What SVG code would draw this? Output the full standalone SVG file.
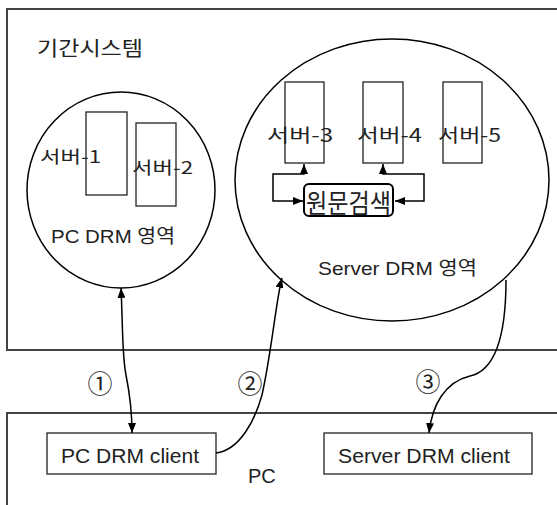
<svg xmlns="http://www.w3.org/2000/svg" width="557" height="505" viewBox="0 0 557 505">
<defs>
<marker id="ah" viewBox="0 0 10 8" refX="10" refY="4" markerWidth="10" markerHeight="8" markerUnits="userSpaceOnUse" orient="auto-start-reverse">
<path d="M0,0 L10,4 L0,8 z" fill="#000"/>
</marker>
<style>
.frame{fill:none;stroke:#444;stroke-width:2}
.shape{fill:#fff;stroke:#000;stroke-width:1.5}
.box{fill:#fff;stroke:#222;stroke-width:1.3}
.t{font-family:"Liberation Sans","Noto Sans CJK KR",sans-serif;fill:#222}
.k{font-family:"Noto Sans CJK KR","Liberation Sans",sans-serif;fill:#222}
.conn{fill:none;stroke:#000;stroke-width:1.5}
</style>
</defs>
<rect width="557" height="505" fill="#fff"/>
<g id="system">
<path class="frame" d="M560,9 H7 V350 H560"/>
<text class="k" x="37" y="56" font-size="20" textLength="106" lengthAdjust="spacingAndGlyphs">기간시스템</text>
</g>
<g id="pc">
<path class="frame" d="M560,413 H7 V510"/>
<text class="t" x="248" y="483" font-size="20">PC</text>
</g>
<g id="pc-drm-area">
<ellipse class="shape" cx="121" cy="190" rx="94" ry="98"/>
<text class="t" x="51" y="243" font-size="19" textLength="124" lengthAdjust="spacingAndGlyphs">PC DRM 영역</text>
</g>
<g id="server1">
<rect class="box" x="86" y="112" width="41" height="83" fill="none"/>
<text class="k" x="40" y="163" font-size="17" textLength="61" lengthAdjust="spacingAndGlyphs">서버-1</text>
</g>
<g id="server2">
<rect class="box" x="136" y="123" width="40" height="83" fill="none"/>
<text class="k" x="132" y="174" font-size="17" textLength="61" lengthAdjust="spacingAndGlyphs">서버-2</text>
</g>
<g id="server-drm-area">
<ellipse class="shape" cx="392" cy="180" rx="157" ry="141"/>
<text class="t" x="318" y="275" font-size="19" textLength="159" lengthAdjust="spacingAndGlyphs">Server DRM 영역</text>
</g>
<g id="server3">
<rect class="box" x="285" y="82" width="39" height="81" fill="none"/>
<text class="k" x="267" y="142" font-size="18" textLength="66" lengthAdjust="spacingAndGlyphs">서버-3</text>
</g>
<g id="server4">
<rect class="box" x="363" y="82" width="40" height="81" fill="none"/>
<text class="k" x="357" y="142" font-size="18" textLength="65" lengthAdjust="spacingAndGlyphs">서버-4</text>
</g>
<g id="server5">
<rect class="box" x="443" y="82" width="39" height="81" fill="none"/>
<text class="k" x="438" y="142" font-size="18" textLength="63" lengthAdjust="spacingAndGlyphs">서버-5</text>
</g>
<g id="search">
<rect x="304" y="184" width="89" height="32" rx="5" fill="#fff" stroke="#000" stroke-width="2"/>
<text class="k" x="306" y="213" font-size="26" textLength="85" lengthAdjust="spacingAndGlyphs">원문검색</text>
</g>
<g id="pc-drm-client">
<rect class="box" x="47" y="433" width="169" height="41"/>
<text class="t" x="61" y="463" font-size="20" textLength="138" lengthAdjust="spacingAndGlyphs">PC DRM client</text>
</g>
<g id="server-drm-client">
<rect class="box" x="324" y="433" width="208" height="41"/>
<text class="t" x="338" y="463" font-size="20" textLength="172" lengthAdjust="spacingAndGlyphs">Server DRM client</text>
</g>
<g id="connectors">
<path class="conn" d="M304,164 V174 H273 V201 H303" marker-start="url(#ah)" marker-end="url(#ah)"/>
<path class="conn" d="M383,164 V174 H424 V201 H395" marker-start="url(#ah)" marker-end="url(#ah)"/>
<path class="conn" d="M121,288 C123,330 122,355 126,375 C130,395 132,410 132,433" marker-start="url(#ah)" marker-end="url(#ah)"/>
<path class="conn" d="M216,453 C240,450 255,420 262,395 C272,350 276,300 282,278" marker-end="url(#ah)"/>
<path class="conn" d="M506,280 C506,330 498,370 470,376 C445,382 432,405 429,433" marker-end="url(#ah)"/>
</g>
<g id="labels">
<text class="k" x="100" y="393" font-size="25" text-anchor="middle">①</text>
<text class="k" x="250" y="393" font-size="25" text-anchor="middle">②</text>
<text class="k" x="428" y="391" font-size="25" text-anchor="middle">③</text>
</g>
</svg>
